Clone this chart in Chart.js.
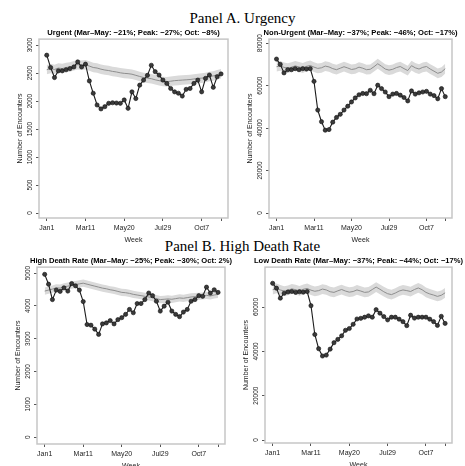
<!DOCTYPE html>
<html>
<head>
<meta charset="utf-8">
<script src="https://cdn.jsdelivr.net/npm/chart.js@4.4.0/dist/chart.umd.min.js"></script>
<style>
  html, body { margin: 0; padding: 0; background: #fff; overflow: hidden; width: 465px; height: 466px; }
  canvas { position: absolute; }
  .ptitle { position: absolute; left: 10px; width: 465px; text-align: center; font-family: "Liberation Serif", serif; font-size: 15px; color: #000; }
</style>
</head>
<body>
<div class="ptitle" style="top:10px">Panel A. Urgency</div>
<div class="ptitle" style="top:238px">Panel B. High Death Rate</div>
<canvas id="urgent" width="249" height="220" style="left:9px;top:28px"></canvas>
<canvas id="nonUrgent" width="243" height="220" style="left:239px;top:28px"></canvas>
<canvas id="highDeath" width="248" height="218" style="left:7px;top:256px"></canvas>
<canvas id="lowDeath" width="247" height="217" style="left:235px;top:256px"></canvas>
<script>
// ============================
// Datos (semanas 2020)
// ============================
const weeks = [0,1,2,3,4,5,6,7,8,9,10,11,12,13,14,15,16,17,18,19,20,21,22,23,24,25,26,27,28,29,30,31,32,33,34,35,36,37,38,39,40,41,42,43,44,45];
const tickWeeks = [0, 10, 20, 30, 40, 45];
const tickLabels = ["Jan1", "Mar11", "May20", "Jul29", "Oct7", ""];

// Urgent
const urgent2020 = [2820,2600,2420,2540,2540,2560,2580,2610,2700,2610,2660,2360,2140,1930,1860,1900,1960,1970,1965,1960,2020,1870,2165,2045,2285,2375,2460,2640,2525,2465,2375,2315,2225,2165,2140,2090,2210,2225,2315,2375,2165,2405,2465,2245,2435,2485];
const urgentExp = [2560,2580,2565,2590,2580,2600,2610,2630,2650,2640,2650,2625,2600,2590,2570,2555,2545,2530,2520,2505,2495,2490,2480,2460,2440,2420,2410,2400,2380,2365,2350,2345,2355,2365,2370,2375,2380,2385,2395,2405,2410,2420,2440,2450,2470,2490];
const urgentLo = [2480,2495,2485,2505,2500,2515,2525,2545,2565,2555,2565,2540,2515,2505,2485,2470,2460,2445,2435,2420,2410,2405,2395,2375,2355,2335,2325,2315,2295,2280,2265,2260,2270,2280,2285,2290,2295,2300,2310,2320,2325,2335,2355,2365,2385,2405];
const urgentHi = [2645,2665,2650,2675,2665,2685,2695,2715,2735,2725,2735,2710,2685,2675,2655,2640,2630,2615,2605,2590,2580,2575,2565,2545,2525,2505,2495,2485,2465,2450,2435,2430,2440,2450,2455,2460,2465,2470,2480,2490,2495,2505,2525,2535,2555,2575];
const urgentTicks = [0, 500, 1000, 1500, 2000, 2500, 3000];

// Non-Urgent
const nonUrgent2020 = [72500,70000,66000,67500,67500,68000,67500,68000,67800,68000,62000,48500,43000,39000,39300,42800,45000,46500,48500,50300,52300,54200,55700,56300,56200,57800,56200,60200,58600,57000,54800,56000,56300,55500,54400,52800,57500,56000,56600,57000,57300,56000,55300,53800,58600,54800];
const nonUrgentExp = [68900,69300,68600,68200,68700,69300,68800,68300,69100,69500,68700,68100,68400,69200,68800,68000,67500,68200,68900,68300,67600,67900,68700,68200,67500,67700,68900,70300,69100,67800,67300,67700,68500,69000,68000,67100,69400,68400,67800,68600,69000,67800,66800,65800,66400,68000];
const nonUrgentLo = [66600,67000,66300,65900,66400,67000,66500,66000,66800,67200,66400,65800,66100,66900,66500,65700,65200,65900,66600,66000,65300,65600,66400,65900,65200,65400,66600,68000,66800,65500,65000,65400,66200,66700,65700,64800,67100,66100,65500,66300,66700,65500,64500,63500,64100,65700];
const nonUrgentHi = [71200,71600,70900,70500,71000,71600,71100,70600,71400,71800,71000,70400,70700,71500,71100,70300,69800,70500,71200,70600,69900,70200,71000,70500,69800,70000,71200,72600,71400,70100,69600,70000,70800,71300,70300,69400,71700,70700,70100,70900,71300,70100,69100,68100,68700,70300];
const nonUrgentTicks = [0, 20000, 40000, 60000, 80000];

// High Death Rate
const highDeath2020 = [4960,4660,4190,4480,4440,4550,4450,4680,4610,4480,4130,3430,3410,3290,3130,3450,3480,3550,3450,3580,3640,3740,3890,3790,4070,4070,4190,4390,4310,4140,3840,3990,4110,3840,3740,3670,3810,3890,4140,4190,4310,4290,4570,4390,4490,4410];
const highDeathExp = [4450,4480,4510,4550,4540,4580,4600,4630,4650,4670,4690,4660,4630,4600,4570,4540,4520,4490,4470,4440,4410,4400,4380,4350,4330,4310,4290,4270,4250,4220,4190,4200,4210,4200,4220,4240,4230,4250,4270,4280,4290,4300,4320,4300,4330,4350];
const highDeathLo = [4340,4370,4400,4440,4430,4470,4490,4520,4540,4560,4580,4550,4520,4490,4460,4430,4410,4380,4360,4330,4300,4290,4270,4240,4220,4200,4180,4160,4140,4110,4080,4090,4100,4090,4110,4130,4120,4140,4160,4170,4180,4190,4210,4190,4220,4240];
const highDeathHi = [4560,4590,4620,4660,4650,4690,4710,4740,4760,4780,4800,4770,4740,4710,4680,4650,4630,4600,4580,4550,4520,4510,4490,4460,4440,4420,4400,4380,4360,4330,4300,4310,4320,4310,4330,4350,4340,4360,4380,4390,4400,4410,4430,4410,4440,4460];
const highDeathTicks = [0, 1000, 2000, 3000, 4000, 5000];

// Low Death Rate
const lowDeath2020 = [70700,68500,64000,66200,66800,67000,66600,66900,66700,67000,60600,47600,41200,37900,38300,41000,43900,45400,47000,49500,50300,52200,54600,54900,55400,56000,55400,58800,57200,55700,54200,55400,55400,54500,53400,51600,56300,55000,55400,55400,55400,54500,53400,51700,55800,52600];
const lowDeathExp = [67800,68400,67700,67200,67500,68200,67800,67300,68000,68400,67600,67100,67400,68100,67700,66900,66600,67300,67900,67200,66700,67000,67700,67200,66600,66800,67900,69000,68000,66900,66000,65600,66300,67200,67700,67400,67000,67900,68600,67800,66600,65900,65400,64800,65300,66400];
const lowDeathLo = [65600,66200,65500,65000,65300,66000,65600,65100,65800,66200,65400,64900,65200,65900,65500,64700,64400,65100,65700,65000,64500,64800,65500,65000,64400,64600,65700,66800,65800,64700,63800,63400,64100,65000,65500,65200,64800,65700,66400,65600,64400,63700,63200,62600,63100,64200];
const lowDeathHi = [70000,70600,69900,69400,69700,70400,70000,69500,70200,70600,69800,69300,69600,70300,69900,69100,68800,69500,70100,69400,68900,69200,69900,69400,68800,69000,70100,71200,70200,69100,68200,67800,68500,69400,69900,69600,69200,70100,70800,70000,68800,68100,67600,67000,67500,68600];
const lowDeathTicks = [0, 20000, 40000, 60000];

// ============================
// Marco gris del área de trazado
// ============================
const framePlugin = {
  id: "frame",
  beforeDatasetsDraw(chart) {
    const a = chart.chartArea, ctx = chart.ctx;
    ctx.save();
    ctx.strokeStyle = "#c6c6c6";
    ctx.lineWidth = 1.5;
    ctx.strokeRect(a.left, a.top, a.right - a.left, a.bottom - a.top);
    ctx.restore();
  }
};

function pts(vals) {
  return weeks.map((w, i) => ({ x: w, y: vals[i] }));
}

function renderPanel(id, title, actual, expected, lo, hi, yTicks, yMin, yMax, tickPad) {
  new Chart(document.getElementById(id), {
    type: "line",
    data: {
      datasets: [
        {
          data: pts(actual),
          borderColor: "#1c1c1c",
          borderWidth: 1.1,
          pointRadius: 2.1,
          pointBackgroundColor: "#3a3a3a",
          pointBorderColor: "#111",
          pointBorderWidth: 0.6,
          fill: false,
          tension: 0
        },
        {
          data: pts(expected),
          borderColor: "#8e8e8e",
          borderWidth: 1,
          pointRadius: 0,
          fill: false,
          tension: 0
        },
        {
          data: pts(hi),
          borderColor: "rgba(0,0,0,0)",
          borderWidth: 0,
          pointRadius: 0,
          backgroundColor: "#dadada",
          fill: "+1",
          tension: 0
        },
        {
          data: pts(lo),
          borderColor: "rgba(0,0,0,0)",
          borderWidth: 0,
          pointRadius: 0,
          fill: false,
          tension: 0
        }
      ]
    },
    options: {
      responsive: false,
      animation: false,
      layout: { padding: 0 },
      plugins: {
        legend: { display: false },
        tooltip: { enabled: false },
        title: {
          display: true,
          text: title,
          color: "#000",
          font: { family: "Liberation Sans", size: 7.6, weight: "bold" },
          padding: { top: 0, bottom: 2 }
        }
      },
      scales: {
        x: {
          type: "linear",
          min: -2,
          max: 46.8,
          afterBuildTicks: s => { s.ticks = tickWeeks.map(v => ({ value: v })); },
          afterFit: s => { s.height = 30; },
          ticks: {
            autoSkip: false,
            maxRotation: 0,
            padding: 3,
            color: "#222",
            font: { family: "Liberation Sans", size: 7 },
            callback: (v, i) => tickLabels[i]
          },
          grid: { drawOnChartArea: false, drawTicks: true, tickLength: 3, color: "#555" },
          border: { display: false },
          title: {
            display: true,
            text: "Week",
            color: "#222",
            font: { family: "Liberation Sans", size: 7 },
            padding: { top: 0, bottom: 4 }
          }
        },
        y: {
          type: "linear",
          min: yMin,
          max: yMax,
          afterBuildTicks: s => { s.ticks = yTicks.map(v => ({ value: v })); },
          afterFit: s => { s.width = 30; },
          ticks: {
            minRotation: 90,
            maxRotation: 90,
            crossAlign: "center",
            padding: tickPad,
            color: "#222",
            font: { family: "Liberation Sans", size: 6.5 },
            callback: v => String(v)
          },
          grid: { drawOnChartArea: false, drawTicks: true, tickLength: 3, color: "#555" },
          border: { display: false },
          title: {
            display: true,
            text: "Number of Encounters",
            color: "#222",
            font: { family: "Liberation Sans", size: 7 },
            padding: { top: 7, bottom: 0 }
          }
        },
        // empty right-hand box so the subtitle is centred over the plot area
        yPad: {
          type: "linear",
          position: "right",
          display: true,
          afterFit: s => { s.width = 30; },
          ticks: { display: false },
          grid: { display: false },
          border: { display: false }
        }
      }
    },
    plugins: [framePlugin]
  });
}

renderPanel("urgent", "Urgent (Mar\u2013May: \u221221%; Peak: \u221227%; Oct: \u22128%)",
  urgent2020, urgentExp, urgentLo, urgentHi, urgentTicks, -89, 3107, -1);
renderPanel("nonUrgent", "Non-Urgent (Mar\u2013May: \u221237%; Peak: \u221246%; Oct: \u221217%)",
  nonUrgent2020, nonUrgentExp, nonUrgentLo, nonUrgentHi, nonUrgentTicks, -2350, 81900, -3);
renderPanel("highDeath", "High Death Rate (Mar\u2013May: \u221225%; Peak: \u221230%; Oct: 2%)",
  highDeath2020, highDeathExp, highDeathLo, highDeathHi, highDeathTicks, -210, 5180, -1);
renderPanel("lowDeath", "Low Death Rate (Mar\u2013May: \u221237%; Peak: \u221244%; Oct: \u221217%)",
  lowDeath2020, lowDeathExp, lowDeathLo, lowDeathHi, lowDeathTicks, -1350, 78000, -3);
</script>
</body>
</html>
